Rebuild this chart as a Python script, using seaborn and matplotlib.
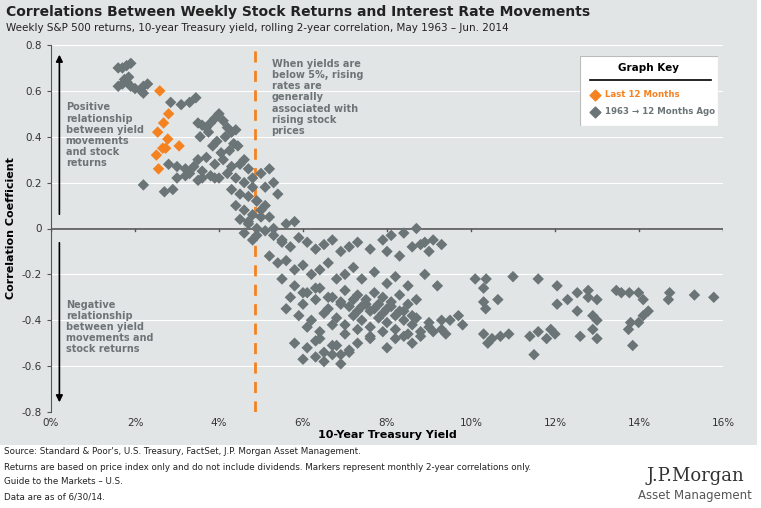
import matplotlib
matplotlib.use("Agg")
import matplotlib.pyplot as plt
import seaborn as sns
import pandas as pd
from matplotlib.patches import Rectangle

# Historical points (10-yr yield %, correlation)
hist_x = [1.6,1.7,1.8,1.9,1.6,1.7,1.8,1.9,2.0,1.85,2.2,2.3,2.2,1.75,2.15,
          2.85,3.1,3.3,3.45,3.5,3.6,3.7,3.8,3.9,4.0,4.1,4.2,4.3,4.4,3.55,3.75,3.95,4.15,4.35,4.45,4.25,4.05,3.85,
          3.5,3.7,3.9,4.1,4.3,4.5,4.6,4.7,4.2,4.4,4.6,4.8,4.0,4.3,4.5,4.7,4.9,4.4,4.6,4.8,4.5,4.7,4.9,5.0,4.6,4.8,
          2.8,3.0,3.2,3.4,3.6,3.8,3.0,3.2,3.5,2.9,2.7,2.2,3.3,3.6,3.9,
          4.8,5.0,5.2,5.3,5.1,5.4,4.9,5.1,5.0,5.2,4.7,4.9,5.1,5.3,5.6,5.8,5.5,
          5.3,5.5,5.7,5.9,6.1,6.3,6.5,6.7,6.9,7.1,7.3,7.6,7.9,8.1,8.4,8.7,8.9,9.1,9.3,8.0,8.3,8.6,8.8,9.0,
          5.2,5.4,5.6,5.8,6.0,6.2,6.4,6.6,6.8,7.0,7.2,7.4,7.7,8.0,8.2,8.5,8.9,
          5.5,5.8,6.1,6.4,6.7,7.0,7.3,7.5,7.7,7.9,8.1,8.3,8.5,8.7,
          6.0,6.3,6.6,6.9,7.1,7.3,7.5,7.7,7.9,8.1,8.3,8.6,9.2,
          5.6,5.9,6.2,6.5,6.8,7.0,7.2,7.4,7.6,7.8,8.0,8.2,8.4,8.6,8.8,9.0,9.3,
          5.7,6.0,6.3,6.6,6.9,7.2,7.4,7.6,7.8,8.0,8.2,8.4,8.7,9.0,9.3,
          6.1,6.4,6.7,7.0,7.3,7.6,7.9,8.2,8.5,8.8,9.1,9.4,
          5.8,6.1,6.3,6.5,6.7,6.9,7.1,7.3,7.6,8.0,8.4,8.6,
          6.0,6.3,6.5,6.7,6.9,7.1,6.4,6.8,
          10.1,10.36,10.3,10.64,10.3,10.35,11.0,11.6,12.05,12.05,12.3,12.53,12.79,12.79,13.0,12.53,12.9,13.0,
          13.46,13.58,13.77,13.99,14.1,14.22,14.1,13.99,13.8,13.75,13.85,14.73,14.7,15.32,15.78,
          10.3,10.5,10.7,10.9,11.4,11.6,11.8,12.0,12.9,13.0,10.4,11.5,11.9,12.6,
          9.5,9.7,9.8]
hist_y = [0.70,0.70,0.71,0.72,0.62,0.63,0.64,0.62,0.61,0.66,0.62,0.63,0.59,0.65,0.60,
          0.55,0.54,0.55,0.57,0.46,0.45,0.44,0.46,0.48,0.50,0.47,0.44,0.42,0.43,0.40,0.42,0.38,0.40,0.37,0.36,0.34,0.33,0.36,
          0.30,0.31,0.28,0.30,0.27,0.28,0.30,0.26,0.24,0.22,0.20,0.18,0.22,0.17,0.15,0.14,0.12,0.10,0.08,0.06,0.04,0.02,0.00,0.05,-0.02,-0.05,
          0.28,0.27,0.26,0.27,0.25,0.23,0.22,0.23,0.21,0.17,0.16,0.19,0.24,0.22,0.22,
          0.22,0.24,0.26,0.20,0.18,0.15,0.12,0.10,0.08,0.05,0.03,-0.03,-0.01,0.00,0.02,0.03,-0.06,
          -0.03,-0.05,-0.08,-0.04,-0.06,-0.09,-0.07,-0.05,-0.10,-0.08,-0.06,-0.09,-0.05,-0.03,-0.02,0.00,-0.06,-0.05,-0.07,-0.10,-0.12,-0.08,-0.07,-0.10,
          -0.12,-0.15,-0.14,-0.18,-0.16,-0.20,-0.18,-0.15,-0.22,-0.20,-0.17,-0.22,-0.19,-0.24,-0.21,-0.25,-0.20,
          -0.22,-0.25,-0.28,-0.26,-0.30,-0.27,-0.29,-0.31,-0.28,-0.30,-0.32,-0.29,-0.33,-0.31,
          -0.33,-0.31,-0.35,-0.32,-0.34,-0.36,-0.33,-0.35,-0.37,-0.34,-0.36,-0.38,-0.25,
          -0.35,-0.38,-0.40,-0.37,-0.39,-0.42,-0.38,-0.40,-0.43,-0.39,-0.41,-0.44,-0.40,-0.42,-0.45,-0.43,-0.40,
          -0.30,-0.28,-0.26,-0.30,-0.33,-0.31,-0.34,-0.36,-0.33,-0.35,-0.38,-0.36,-0.39,-0.41,-0.44,
          -0.43,-0.45,-0.42,-0.46,-0.44,-0.47,-0.45,-0.48,-0.46,-0.47,-0.45,-0.46,
          -0.50,-0.52,-0.49,-0.54,-0.51,-0.55,-0.53,-0.50,-0.48,-0.52,-0.47,-0.50,
          -0.57,-0.56,-0.58,-0.55,-0.59,-0.54,-0.48,-0.51,
          -0.22,-0.22,-0.26,-0.31,-0.32,-0.35,-0.21,-0.22,-0.25,-0.33,-0.31,-0.28,-0.27,-0.30,-0.31,-0.36,-0.38,-0.40,
          -0.27,-0.28,-0.28,-0.28,-0.31,-0.36,-0.38,-0.41,-0.41,-0.44,-0.51,-0.28,-0.31,-0.29,-0.30,
          -0.46,-0.48,-0.47,-0.46,-0.47,-0.45,-0.48,-0.46,-0.44,-0.48,-0.50,-0.55,-0.44,-0.47,
          -0.40,-0.38,-0.42]

# Last 12 months
last_x = [2.59,2.80,2.68,2.54,2.78,2.66,2.73,3.05,2.51,2.56]
last_y = [0.60,0.50,0.46,0.42,0.39,0.35,0.35,0.36,0.32,0.26]

xticks = [0,2,4,6,8,10,12,14,16]
yticks = [-0.8,-0.6,-0.4,-0.2,0,0.2,0.4,0.6,0.8]

GRAY = "#6b7476"
ORANGE = "#f58220"
BG = "#e2e5e6"

df = pd.concat([pd.DataFrame({"x": hist_x, "y": hist_y, "s": "hist"}),
                pd.DataFrame({"x": last_x, "y": last_y, "s": "last"})])

fig = plt.figure(figsize=(7.61, 5.08), dpi=100)
fig.patches.append(Rectangle((0, 63/508), 757/761, 1 - 63/508, transform=fig.transFigure,
                             facecolor=BG, edgecolor="none", zorder=-10))
ax = fig.add_axes([51/761, 1 - 412/508, (723-51)/761, (412-45)/508])
ax.set_facecolor(BG)
sns.scatterplot(data=df, x="x", y="y", hue="s", palette={"hist": GRAY, "last": ORANGE},
                marker="D", s=34, edgecolor="none", legend=False, ax=ax, zorder=3)
ax.set_xlim(0, 16); ax.set_ylim(-0.8, 0.8)
ax.set_xticks(xticks); ax.set_xticklabels([f"{t}%" for t in xticks], fontsize=7.5, color="#333")
ax.set_yticks(yticks); ax.set_yticklabels([f"{t:g}" for t in yticks], fontsize=7.5, color="#333")
for t in yticks:
    ax.axhline(t, color="white", lw=0.8, zorder=0)
for s in ["top", "right", "bottom"]:
    ax.spines[s].set_visible(False)
ax.spines["left"].set_color("#555")
ax.axhline(0, color="#555", lw=1.2, zorder=1)
for t in xticks:
    ax.plot([t, t], [0, -0.012], color="#555", lw=1, zorder=1)
ax.tick_params(axis="x", length=0, pad=4)
ax.tick_params(axis="y", length=3, color="#555")
ax.axvline(4.85, color=ORANGE, lw=2, ls=(0, (4, 3)), zorder=2)
ax.set_xlabel("10-Year Treasury Yield", fontsize=8, fontweight="bold", labelpad=2)
ax.set_ylabel("Correlation Coefficient", fontsize=8, fontweight="bold")

ax.annotate("", xy=(0.2, 0.77), xytext=(0.2, 0.05), arrowprops=dict(arrowstyle="-|>", color="black", lw=1.2))
ax.annotate("", xy=(0.2, -0.77), xytext=(0.2, -0.05), arrowprops=dict(arrowstyle="-|>", color="black", lw=1.2))
tc = "#6e7476"
ax.text(0.35, 0.55, "Positive\nrelationship\nbetween yield\nmovements\nand stock\nreturns", fontsize=7, color=tc,
        fontweight="bold", va="top", linespacing=1.15)
ax.text(0.35, -0.31, "Negative\nrelationship\nbetween yield\nmovements and\nstock returns", fontsize=7, color=tc,
        fontweight="bold", va="top", linespacing=1.15)
ax.text(5.25, 0.74, "When yields are\nbelow 5%, rising\nrates are\ngenerally\nassociated with\nrising stock\nprices", fontsize=7,
        color=tc, fontweight="bold", va="top", linespacing=1.15)

# legend box
lx = fig.add_axes([580/761, 1 - 126/508, 138/761, 70/508])
lx.set_xlim(0, 1); lx.set_ylim(0, 1); lx.axis("off")
lx.add_patch(Rectangle((0, 0), 1, 1, facecolor="white", edgecolor="#bbb", lw=0.8))
lx.text(0.5, 0.83, "Graph Key", ha="center", va="center", fontsize=7.5, fontweight="bold")
lx.plot([0.07, 0.95], [0.66, 0.66], color="black", lw=1.2)
lx.scatter([0.11], [0.45], marker="D", s=30, color=ORANGE)
lx.text(0.18, 0.45, "Last 12 Months", va="center", fontsize=6.2, color=ORANGE, fontweight="bold")
lx.scatter([0.11], [0.2], marker="D", s=30, color=GRAY)
lx.text(0.18, 0.2, "1963 \u2192 12 Months Ago", va="center", fontsize=6.2, color=GRAY, fontweight="bold")

fig.text(6/761, 1 - 12/508, "Correlations Between Weekly Stock Returns and Interest Rate Movements",
         fontsize=10, fontweight="bold", va="center", color="#222")
fig.text(6/761, 1 - 28/508, "Weekly S&P 500 returns, 10-year Treasury yield, rolling 2-year correlation, May 1963 \u2013 Jun. 2014",
         fontsize=7.5, va="center", color="#222")
foot = ["Source: Standard & Poor's, U.S. Treasury, FactSet, J.P. Morgan Asset Management.",
        "Returns are based on price index only and do not include dividends. Markers represent monthly 2-year correlations only.",
        "Guide to the Markets \u2013 U.S.",
        "Data are as of 6/30/14."]
for i, f in enumerate(foot):
    fig.text(4/761, 1 - (452 + i*15)/508, f, fontsize=6.3, va="center", color="#222")
fig.text(695/761, 1 - 476/508, "J.P.Morgan", fontsize=13, ha="center", va="center", family="serif", color="#333")
fig.text(695/761, 1 - 496/508, "Asset Management", fontsize=8.5, ha="center", va="center", color="#555")

fig.savefig("out.png", dpi=100)
